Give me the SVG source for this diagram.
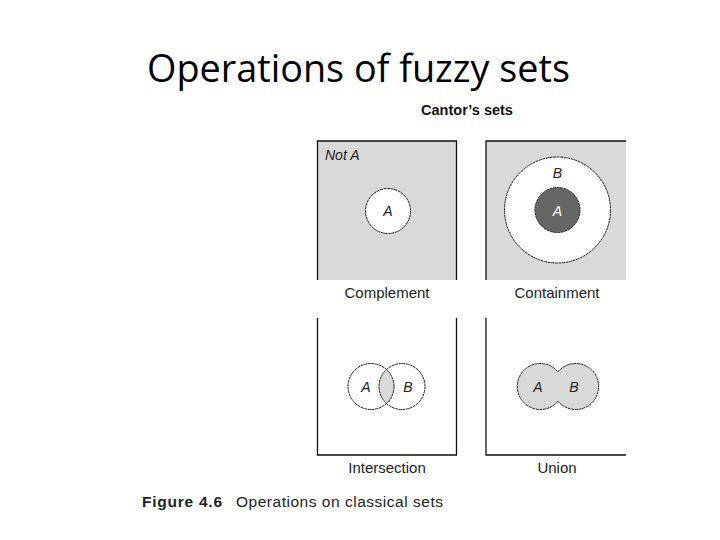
<svg xmlns="http://www.w3.org/2000/svg" width="720" height="540" viewBox="0 0 720 540">
<style>
.title{font-family:"Open Sans","Liberation Sans",sans-serif;font-size:38px;fill:#000}
.hdr{font-family:"Liberation Sans",Arial,sans-serif;font-weight:bold;font-size:14.5px;fill:#111}
.lbl{font-family:"Liberation Sans",Arial,sans-serif;font-size:15px;fill:#222}
.it{font-family:"Liberation Sans",Arial,sans-serif;font-style:italic;font-size:14px;fill:#222}
.frame{fill:none;stroke:#111;stroke-width:1.3}
.gray{fill:#d9d9d9}
.circ{stroke:#222;stroke-width:1;stroke-dasharray:3 0.6}
.cap{font-family:"Liberation Sans",Arial,sans-serif;font-size:15.5px;fill:#222}
</style>
<rect width="720" height="540" fill="#fff"/>
<text class="title" x="147" y="82" textLength="423" lengthAdjust="spacingAndGlyphs">Operations of fuzzy sets</text>
<text class="hdr" x="467" y="115" text-anchor="middle">Cantor’s sets</text>

<g id="complement">
<rect class="gray" x="317.5" y="141" width="139" height="139"/>
<path class="frame" d="M317.5 280 V141 H456.5 V280"/>
<text class="it" x="325" y="160">Not A</text>
<circle class="circ" cx="388" cy="211" r="22.5" fill="#fff"/>
<text class="it" x="388" y="216" text-anchor="middle">A</text>
<text class="lbl" x="387" y="298" text-anchor="middle">Complement</text>
</g>

<g id="containment">
<rect class="gray" x="486" y="141" width="140" height="139"/>
<path class="frame" d="M486 280 V141 H626"/>
<circle class="circ" cx="557.5" cy="210" r="53" fill="#fff"/>
<circle class="circ" cx="557.5" cy="210" r="22.5" fill="#666"/>
<text class="it" x="557.5" y="178" text-anchor="middle">B</text>
<text class="it" x="557.5" y="216" text-anchor="middle" style="fill:#fff">A</text>
<text class="lbl" x="557" y="298" text-anchor="middle">Containment</text>
</g>

<g id="intersection">
<path class="frame" d="M317.5 318 V455 H456.5 V318"/>
<defs>
<clipPath id="clipA"><circle cx="371" cy="386.5" r="23"/></clipPath>
</defs>
<circle cx="402" cy="386.5" r="23" class="gray" clip-path="url(#clipA)"/>
<circle class="circ" cx="371" cy="386.5" r="23" fill="none"/>
<circle class="circ" cx="402" cy="386.5" r="23" fill="none"/>
<text class="it" x="366" y="392" text-anchor="middle">A</text>
<text class="it" x="408" y="392" text-anchor="middle">B</text>
<text class="lbl" x="387" y="473" text-anchor="middle">Intersection</text>
</g>

<g id="union">
<path class="frame" d="M486 318 V455 H626"/>
<circle cx="540.5" cy="386.5" r="23" class="gray"/>
<circle cx="575.5" cy="386.5" r="23" class="gray"/>
<path class="circ" fill="none" d="M558 401.2 A23 23 0 1 1 558 371.8 A23 23 0 1 1 558 401.2 Z"/>
<text class="it" x="538" y="392" text-anchor="middle">A</text>
<text class="it" x="574" y="392" text-anchor="middle">B</text>
<text class="lbl" x="557" y="473" text-anchor="middle">Union</text>
</g>

<text class="cap" x="142" y="507"><tspan font-weight="bold" textLength="80">Figure 4.6</tspan><tspan x="236" textLength="207">Operations on classical sets</tspan></text>
</svg>
